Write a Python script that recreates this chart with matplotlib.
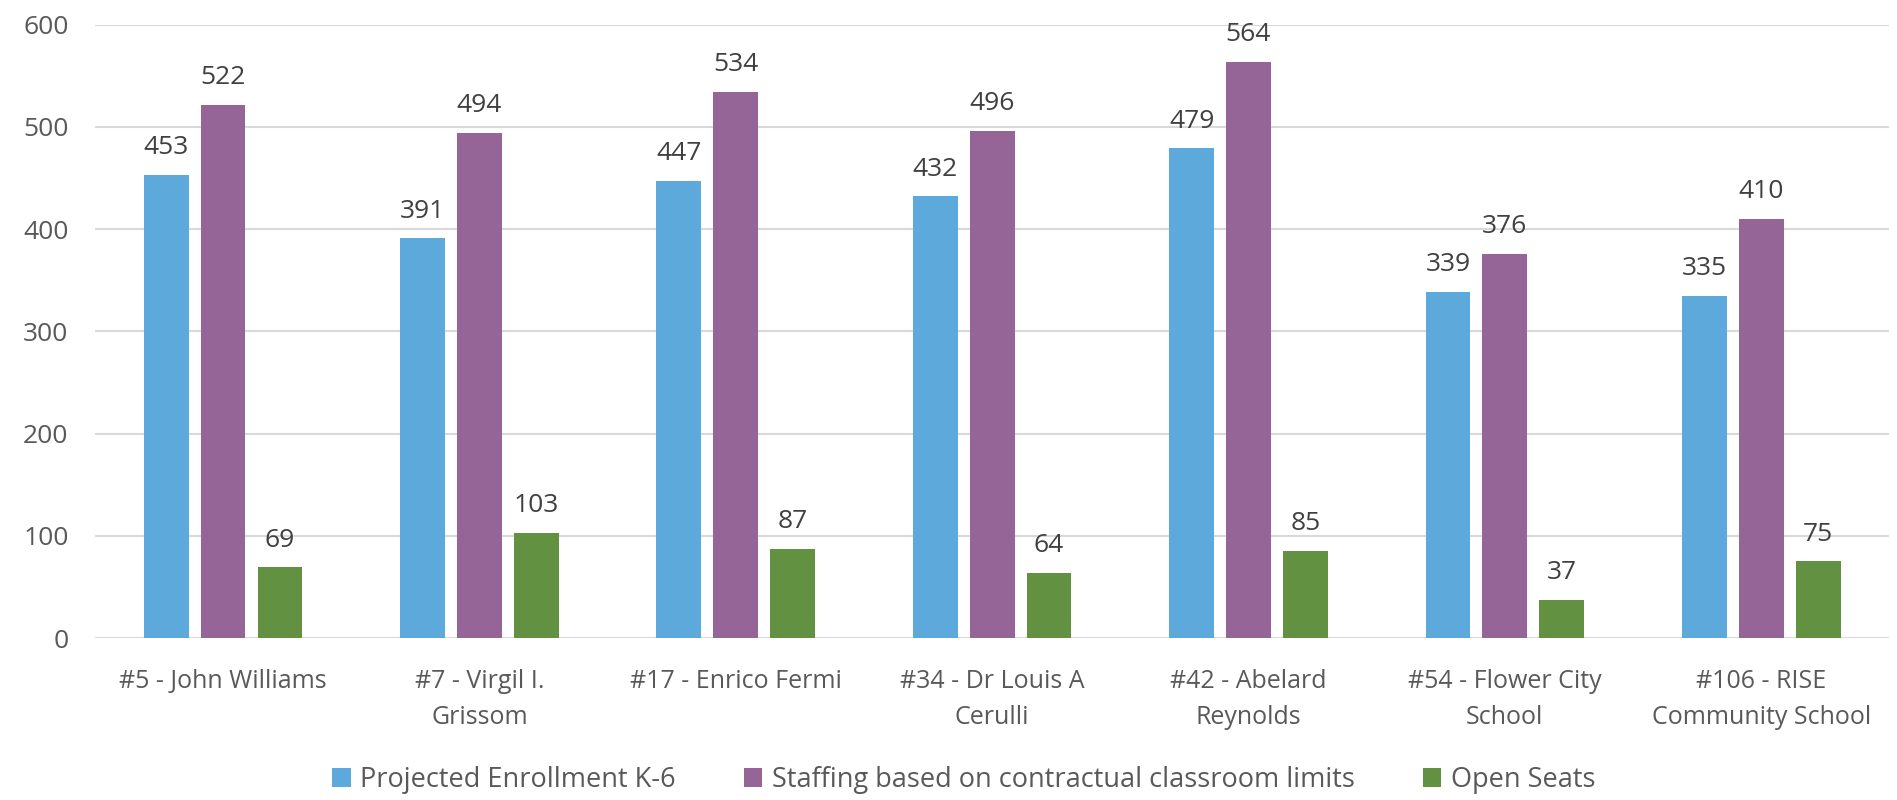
import numpy as np
import matplotlib.pyplot as plt

plt.rcParams['font.family'] = ['Open Sans', 'DejaVu Sans']

schools = ["#5 - John Williams", "#7 - Virgil I.\nGrissom", "#17 - Enrico Fermi",
           "#34 - Dr Louis A\nCerulli", "#42 - Abelard\nReynolds",
           "#54 - Flower City\nSchool", "#106 - RISE\nCommunity School"]
enrollment = [453, 391, 447, 432, 479, 339, 335]
staffing = [522, 494, 534, 496, 564, 376, 410]
open_seats = [69, 103, 87, 64, 85, 37, 75]

series = [("Projected Enrollment K-6", enrollment, "#5DA9DC"),
          ("Staffing based on contractual classroom limits", staffing, "#956598"),
          ("Open Seats", open_seats, "#629142")]

fig = plt.figure(figsize=(18.97, 8), dpi=100)
ax = fig.add_axes([0.050, 0.2025, 0.946, 0.7665])

x = np.arange(len(schools))
w = 0.175
step = 0.222
for i, (name, vals, col) in enumerate(series):
    bars = ax.bar(x + (i - 1) * step, vals, w, color=col, label=name, zorder=3)
    for b, v in zip(bars, vals):
        ax.annotate(str(v), (b.get_x() + b.get_width() / 2, v), xytext=(0, 15),
                    textcoords='offset points', ha='center', va='baseline',
                    fontsize=19, color='#404040')

ax.set_xlim(-0.5, len(schools) - 0.5)
ax.set_ylim(0, 600)
ax.set_yticks(range(0, 601, 100))
ax.yaxis.grid(True, color='#D9D9D9', linewidth=1.5, zorder=0)
for s in ax.spines.values():
    s.set_visible(False)
ax.axhline(0, color='#D9D9D9', linewidth=1.8, zorder=2)
ax.tick_params(length=0, colors='#595959')
ax.tick_params(axis='y', pad=19, labelsize=19)
ax.tick_params(axis='x', pad=22, labelsize=18)
ax.set_xticks(x)
ax.set_xticklabels(schools, linespacing=1.6)

fig.legend(loc='center', ncol=3, frameon=False, fontsize=19.5,
           handlelength=0.7, handleheight=0.7, handletextpad=0.35, columnspacing=2.5,
           bbox_to_anchor=(0.508, 0.025), labelcolor='#595959')

fig.savefig("out.png", dpi=100)
